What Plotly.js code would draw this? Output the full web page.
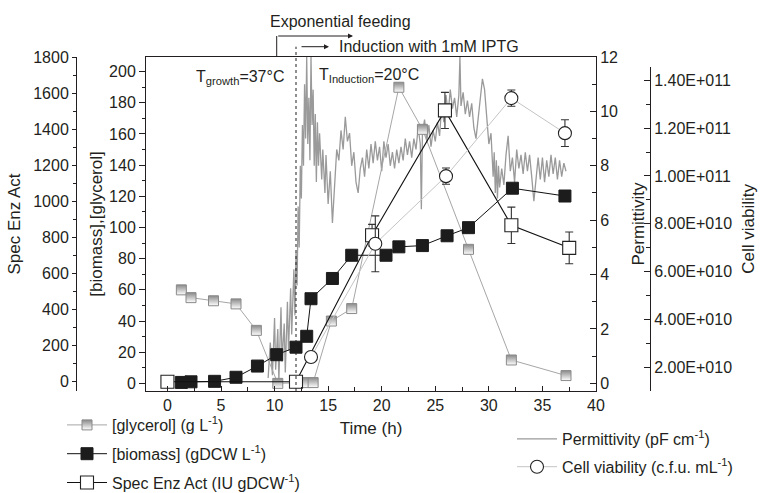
<!DOCTYPE html>
<html>
<head>
<meta charset="utf-8">
<script src="https://cdn.plot.ly/plotly-3.0.1.min.js"></script>
<style>html,body{margin:0;padding:0;background:#fff;}#chart{width:763px;height:493px;}</style>
</head>
<body>
<div id="chart"></div>
<script>
// ---- data ----
const glycerolTime = [1.3, 2.2, 4.3, 6.4, 8.3, 10.3, 12.9, 13.6, 15.3, 17.2, 21.6, 23.8, 28.1, 32.1, 37.2];
const glycerolConc = [60, 55, 53, 51, 34, 0, 0.5, 0.5, 40, 48, 190, 163, 86, 15, 5];

const biomassTime = [1.3, 2.2, 4.4, 6.4, 8.4, 10.2, 12.0, 13.0, 13.4, 15.4, 17.2, 20.4, 21.6, 23.8, 26.1, 28.1, 32.2, 37.1];
const biomassConc = [0.6, 1, 1.3, 3.9, 11.1, 18.4, 23.2, 30.2, 54.3, 67.3, 82.2, 82.2, 87.6, 88.4, 94.7, 99.9, 125.2, 120.2];

const enzTime = [0, 12, 19.1, 25.9, 32.1, 37.5];
const enzAct = [0, 0, 812, 1504, 867, 742];
const enzErr = [0, 0, 60, 100, 101, 88];

const viabTime = [13.4, 19.4, 26.0, 32.1, 37.1];
const viabCfu = [2.42e10, 7.16e10, 9.99e10, 1.3255e11, 1.179e11];
const viabErr = [0, 1.17e10, 3.4e9, 3.4e9, 5.6e9];
const viabTicks = [2e10, 4e10, 6e10, 8e10, 1e11, 1.2e11, 1.4e11];
const viabTickText = ["2.00E+010", "4.00E+010", "6.00E+010", "8.00E+010", "1.00E+011", "1.20E+011", "1.40E+011"];

const permTime = [9.4, 9.6, 9.8, 10.0, 10.1, 10.3, 10.4, 10.6, 10.7, 10.9, 11.0, 11.2, 11.3, 11.5, 11.6, 11.8, 11.9, 12.0, 12.1, 12.2,
  12.3, 12.4, 12.5, 12.6, 12.7, 12.8, 12.9, 13.0, 13.1, 13.2, 13.3, 13.4, 13.5, 13.6, 13.7, 13.8, 13.9, 14.0, 14.1, 14.2,
  14.4, 14.5, 14.7, 14.8, 15.0, 15.2, 15.4, 15.6, 15.8, 16.0, 16.2, 16.4, 16.6, 16.8, 17.0, 17.2, 17.4, 17.6, 17.8, 18.0,
  18.2, 18.4, 18.6, 18.8, 19.0, 19.2, 19.4, 19.6, 19.8, 20.0, 20.2, 20.4, 20.6, 20.8, 21.0, 21.2, 21.4, 21.6, 21.8, 22.0,
  22.2, 22.4, 22.6, 22.8, 23.0, 23.2, 23.4, 23.6, 23.7, 23.8, 24.0, 24.2, 24.4, 24.6, 24.8, 25.0, 25.2, 25.4, 25.6, 25.8,
  26.0, 26.2, 26.4, 26.6, 26.8, 27.0, 27.2, 27.3, 27.4, 27.6, 27.8, 28.0, 28.2, 28.4, 28.6, 28.8, 29.0, 29.2, 29.4, 29.6,
  29.8, 30.0, 30.2, 30.4, 30.5, 30.6, 30.7, 30.8, 30.9, 31.0, 31.2, 31.4, 31.6, 31.8, 32.0, 32.2, 32.4, 32.6, 32.8, 33.0,
  33.2, 33.4, 33.6, 33.8, 34.0, 34.2, 34.4, 34.6, 34.8, 35.0, 35.2, 35.4, 35.6, 35.8, 36.0, 36.2, 36.4, 36.6, 36.8, 37.0, 37.2];
const permValue = [0.2, 1.5, 0.3, 2.4, 0.5, 2.0, 0.1, 2.8, 0.8, 2.2, 0.4, 3.0, 1.2, 3.5, 1.8, 4.2, 2.5, 4.8, 3.6, 6.5,
  5.0, 8.0, 6.8, 9.5, 8.0, 11.0, 9.0, 12.0, 8.8, 10.5, 8.2, 12.0, 9.5, 10.8, 8.0, 9.9, 7.4, 9.6, 8.0, 9.2,
  7.5, 8.6, 7.0, 8.4, 6.6, 7.8, 5.9, 7.5, 8.6, 8.2, 9.3, 8.6, 9.8, 8.9, 9.2, 8.0, 8.5, 7.4, 7.0, 7.9,
  8.3, 7.6, 8.6, 7.9, 8.8, 8.1, 8.9, 8.2, 8.7, 7.8, 8.9, 8.3, 8.8, 8.0, 8.5, 7.9, 8.6, 8.1, 8.7, 8.2,
  9.0, 8.4, 8.9, 8.3, 9.0, 8.6, 9.4, 8.8, 6.4, 9.2, 9.7, 8.9, 9.5, 8.7, 9.3, 8.9, 9.6, 9.1, 10.2, 9.6,
  10.6, 9.9, 10.8, 10.1, 10.5, 9.8, 10.6, 12.0, 10.2, 10.7, 9.9, 10.4, 9.8, 10.3, 9.4, 9.0, 9.7, 10.6, 11.2, 10.8,
  9.6, 8.8, 9.2, 7.6, 8.5, 7.0, 8.2, 6.8, 8.0, 7.2, 7.9, 7.3, 8.4, 9.1, 7.8, 8.3, 7.4, 8.6, 7.9, 8.4,
  7.7, 8.5, 7.8, 8.4, 7.6, 6.7, 7.5, 8.3, 7.5, 8.3, 7.4, 8.2, 7.6, 8.4, 7.7, 8.3, 7.5, 8.2, 7.6, 8.1, 7.8];

// ---- geometry helpers (pixels -> paper) ----
const ML = 20, MR = 20, MT = 57, MB = 102, W = 763, H = 493;
const PW = W - ML - MR, PH = H - MT - MB;
const px = v => (v - ML) / PW;
const py = v => (H - MB - v) / PH;

const FONT = 'Liberation Sans, Arial, sans-serif';
const INK = '#231f20';

const traces = [
  {
    name: 'Permittivity (pF cm<sup>-1</sup>)', x: permTime, y: permValue, xaxis: 'x', yaxis: 'y',
    mode: 'lines', line: {color: '#9a9a9a', width: 1.3}, legend: 'legend2', legendgroup: 'p'
  },
  {
    name: '[glycerol] (g L<sup>-1</sup>)', x: glycerolTime, y: glycerolConc, xaxis: 'x', yaxis: 'y2',
    mode: 'lines+markers', line: {color: '#a6a6a6', width: 1},
    marker: {symbol: 'square', size: 10, color: '#8a8a8a', gradient: {type: 'vertical', color: '#ffffff'},
      line: {color: '#8a8a8a', width: 1}},
    legend: 'legend', legendgroup: 'g'
  },
  {
    name: '[biomass] (gDCW L<sup>-1</sup>)', x: biomassTime, y: biomassConc, xaxis: 'x', yaxis: 'y2',
    mode: 'lines+markers', line: {color: '#111', width: 1},
    marker: {symbol: 'square', size: 12, color: '#1c1c1c', line: {color: '#1c1c1c', width: 1}},
    legend: 'legend', legendgroup: 'b'
  },
  {
    name: 'Spec Enz Act (IU gDCW<sup>-1</sup>)', x: enzTime, y: enzAct, xaxis: 'x', yaxis: 'y3',
    mode: 'lines+markers', line: {color: '#111', width: 1.1},
    marker: {symbol: 'square', size: 13, color: '#ffffff', line: {color: '#222', width: 1.1}},
    error_y: {type: 'data', array: enzErr, visible: true, color: '#333', thickness: 1.1, width: 4},
    legend: 'legend', legendgroup: 'e'
  },
  {
    name: 'Cell viability (c.f.u. mL<sup>-1</sup>)', x: viabTime, y: viabCfu, xaxis: 'x', yaxis: 'y4',
    mode: 'lines+markers', line: {color: '#c4c4c4', width: 1},
    marker: {symbol: 'circle', size: 13, color: '#ffffff', line: {color: '#222', width: 1.1}},
    error_y: {type: 'data', array: viabErr, visible: true, color: '#333', thickness: 1.1, width: 4},
    legend: 'legend2', legendgroup: 'v'
  }
];

const tickFont = {family: FONT, size: 16, color: INK};
const titleFont = {family: FONT, size: 17, color: INK};
const baseAxis = {
  showgrid: false, zeroline: false, showline: true, linecolor: INK, linewidth: 1,
  tickcolor: INK, tickfont: tickFont, automargin: false
};

const layout = {
  width: W, height: H,
  margin: {l: ML, r: MR, t: MT, b: MB, autoexpand: false},
  paper_bgcolor: '#fff', plot_bgcolor: 'rgba(0,0,0,0)',
  font: {family: FONT, color: INK},
  xaxis: Object.assign({}, baseAxis, {
    domain: [px(146), px(596)], range: [-2, 40], anchor: 'y',
    tick0: 0, dtick: 5, ticks: 'inside', ticklen: 5, mirror: true,
    minor: {tick0: 0, dtick: 2.5, ticks: 'inside', ticklen: 4, tickcolor: INK},
    title: {text: 'Time (h)', font: titleFont, standoff: 8}
  }),
  yaxis: Object.assign({}, baseAxis, {
    domain: [0, 1], range: [-0.28, 12], anchor: 'x', side: 'right',
    tick0: 0, dtick: 2, ticks: 'inside', ticklen: 6,
    minor: {tick0: 0, dtick: 1, ticks: 'inside', ticklen: 4, tickcolor: INK},
    title: {text: 'Permittivity', font: titleFont, standoff: 15}
  }),
  yaxis2: Object.assign({}, baseAxis, {
    overlaying: 'y', anchor: 'x', side: 'left', range: [-4.9, 209.4],
    tick0: 0, dtick: 20, ticks: 'outside', ticklen: 6,
    minor: {tick0: 0, dtick: 10, ticks: 'outside', ticklen: 3, tickcolor: INK},
    title: {text: '[biomass],[glycerol]', font: titleFont, standoff: 2}
  }),
  yaxis3: Object.assign({}, baseAxis, {
    overlaying: 'y', anchor: 'free', position: px(76), side: 'left', range: [-51.5, 1800],
    tick0: 0, dtick: 200, ticks: 'outside', ticklen: 4,
    minor: {tick0: 0, dtick: 100, ticks: 'outside', ticklen: 3, tickcolor: INK},
    title: {text: 'Spec Enz Act', font: titleFont, standoff: 7}
  }),
  yaxis4: Object.assign({}, baseAxis, {
    domain: [0, py(66.7)], anchor: 'free', position: px(650), side: 'right',
    range: [1e10, 1.457e11], tickmode: 'array', tickvals: viabTicks, ticktext: viabTickText,
    ticks: 'inside', ticklen: 6,
    minor: {tick0: 0, dtick: 1e10, ticks: 'inside', ticklen: 4, tickcolor: INK},
    title: {text: 'Cell viability', font: titleFont, standoff: 10}
  }),
  legend: {
    x: px(62), y: py(408), xanchor: 'left', yanchor: 'top',
    font: {family: FONT, size: 16, color: INK}, bgcolor: 'rgba(0,0,0,0)',
    traceorder: 'grouped', tracegroupgap: 5, itemwidth: 40
  },
  legend2: {
    x: px(512), y: py(422), xanchor: 'left', yanchor: 'top',
    font: {family: FONT, size: 16, color: INK}, bgcolor: 'rgba(0,0,0,0)',
    traceorder: 'grouped', tracegroupgap: 4, itemwidth: 40
  },
  shapes: [
    {type: 'line', xref: 'x', yref: 'paper', x0: 12, x1: 12, y0: 0, y1: py(46.7),
      line: {color: INK, width: 1, dash: '3px,3px'}},
    {type: 'line', xref: 'paper', yref: 'paper', x0: px(276.7), x1: px(276.7), y0: 1, y1: py(36),
      line: {color: INK, width: 1}}
  ],
  annotations: [
    {xref: 'paper', yref: 'paper', x: px(268), y: py(21.7), xanchor: 'left', yanchor: 'middle',
      text: 'Exponential feeding', showarrow: false, font: {family: FONT, size: 16, color: INK}},
    {xref: 'paper', yref: 'paper', x: px(337), y: py(46.7), xanchor: 'left', yanchor: 'middle',
      text: 'Induction with 1mM IPTG', showarrow: false, font: {family: FONT, size: 16, color: INK}},
    {xref: 'paper', yref: 'paper', x: px(194), y: py(77), xanchor: 'left', yanchor: 'middle',
      text: 'T<sub>growth</sub>=37°C', showarrow: false, font: {family: FONT, size: 16, color: INK}},
    {xref: 'paper', yref: 'paper', x: px(317), y: py(75), xanchor: 'left', yanchor: 'middle',
      text: 'T<sub>Induction</sub>=20°C', showarrow: false, font: {family: FONT, size: 16, color: INK}},
    {xref: 'paper', yref: 'paper', x: px(353), y: py(36), text: '', showarrow: true,
      ax: -76.3, ay: 0, axref: 'pixel', ayref: 'pixel', arrowhead: 2, arrowsize: 1, arrowwidth: 1, arrowcolor: INK},
    {xref: 'paper', yref: 'paper', x: px(329), y: py(46.7), text: '', showarrow: true,
      ax: -29, ay: 0, axref: 'pixel', ayref: 'pixel', arrowhead: 2, arrowsize: 1, arrowwidth: 1, arrowcolor: INK}
  ]
};

Plotly.newPlot('chart', traces, layout, {displayModeBar: false, staticPlot: true});
</script>
</body>
</html>
